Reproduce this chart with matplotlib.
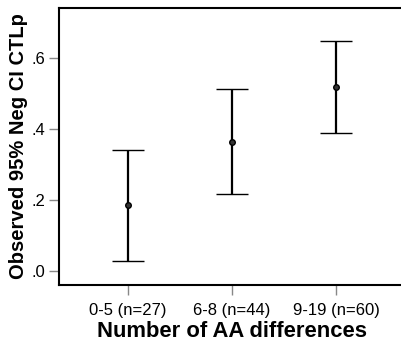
import matplotlib
matplotlib.use("Agg")
import matplotlib.pyplot as plt

categories = ["0-5 (n=27)", "6-8 (n=44)", "9-19 (n=60)"]
means = [0.186, 0.364, 0.517]
upper = [0.341, 0.511, 0.647]
lower = [0.029, 0.217, 0.387]
yticks = [0.0, 0.2, 0.4, 0.6]
ytick_labels = [".0", ".2", ".4", ".6"]

plt.rcParams['font.family'] = ['Liberation Sans', 'DejaVu Sans']

fig = plt.figure(figsize=(4.01, 3.43), dpi=100)
ax = fig.add_axes([59/401, 1 - 285/343, (405-59)/401, (285-8)/343])

x = list(range(1, len(categories) + 1))
yerr = [[m - l for m, l in zip(means, lower)], [u - m for m, u in zip(means, upper)]]
ax.errorbar(x, means, yerr=yerr, fmt='o', color='black', ecolor='black',
            elinewidth=1.6, capsize=11.5, capthick=1.6, markersize=4,
            markerfacecolor='#333333', markeredgecolor='black', markeredgewidth=1.0)

ax.set_xlim(0.337, 3.663)
ax.set_ylim(-0.0394, 0.7398)
ax.set_xticks(x)
ax.set_xticklabels(categories, fontsize=12)
ax.set_yticks(yticks)
ax.set_yticklabels(ytick_labels, fontsize=12)
ax.tick_params(axis='x', direction='out', length=7, width=1, color='#888888', pad=6)
ax.tick_params(axis='y', direction='out', length=7, width=1, color='#888888', pad=3)

for s in ax.spines.values():
    s.set_linewidth(1.5)
    s.set_color('black')

ax.set_xlabel("Number of AA differences", fontsize=15.8, fontweight='bold', labelpad=2)
ax.set_ylabel("Observed 95% Neg CI CTLp", fontsize=14.5, fontweight='bold', labelpad=2)

fig.savefig("out.png", dpi=100)
